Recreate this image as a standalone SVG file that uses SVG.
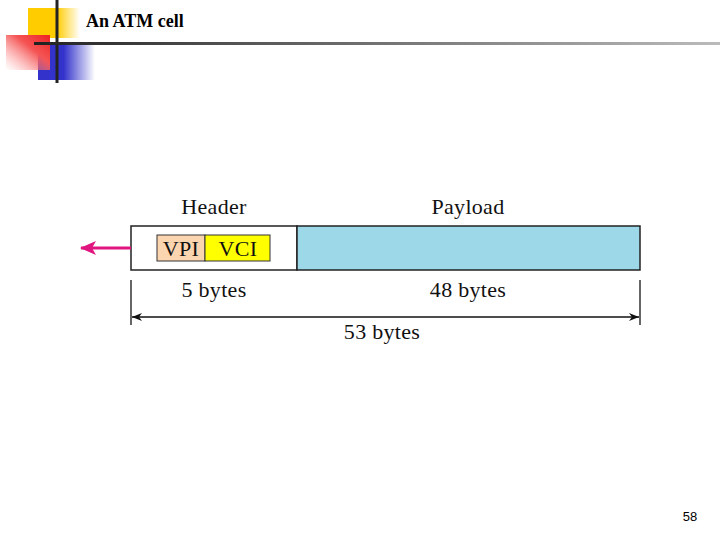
<svg xmlns="http://www.w3.org/2000/svg" width="720" height="540" viewBox="0 0 720 540">
<style>
.lbl{font-family:"Liberation Serif","Times New Roman",serif;font-size:22px;fill:#111;text-anchor:middle;letter-spacing:0.3px}
.tk{stroke:#333;stroke-width:1.5}
</style>
<defs>
<linearGradient id="gy" x1="0" x2="1" y1="0" y2="0"><stop offset="0" stop-color="#ffcc00"/><stop offset="0.55" stop-color="#ffcc00"/><stop offset="1" stop-color="#ffcc00" stop-opacity="0"/></linearGradient>
<linearGradient id="gr" x1="1" x2="0" y1="0" y2="1"><stop offset="0" stop-color="#ee2222"/><stop offset="0.4" stop-color="#f55555"/><stop offset="1" stop-color="#ff9999" stop-opacity="0"/></linearGradient>
<linearGradient id="gb" x1="0" x2="1" y1="0" y2="0"><stop offset="0" stop-color="#3333cc"/><stop offset="0.45" stop-color="#3333cc"/><stop offset="1" stop-color="#3333cc" stop-opacity="0"/></linearGradient>
<linearGradient id="gl" x1="0" x2="1" y1="0" y2="0"><stop offset="0" stop-color="#222"/><stop offset="0.3" stop-color="#555"/><stop offset="1" stop-color="#bbb"/></linearGradient>
<marker id="ab" viewBox="0 0 10 10" refX="10" refY="5" markerWidth="10" markerHeight="10" markerUnits="userSpaceOnUse" orient="auto-start-reverse"><path d="M0,1 L10,5 L0,9 L3,5 Z" fill="#111"/></marker>
<marker id="ap" viewBox="0 0 16 14" refX="15" refY="7" markerWidth="16" markerHeight="14" markerUnits="userSpaceOnUse" orient="auto"><path d="M0,0 L16,7 L0,14 L4,7 Z" fill="#e0157f"/></marker>
</defs>
<g id="decor">
<rect x="28" y="8" width="52" height="30" fill="url(#gy)"/>
<rect x="38" y="45" width="57" height="35" fill="url(#gb)"/>
<rect x="6" y="35" width="44" height="35" fill="url(#gr)"/>
<line x1="57" y1="0" x2="57" y2="83" stroke="#222" stroke-width="3"/>
<rect x="34" y="42" width="686" height="3" fill="url(#gl)"/>
</g>
<text id="title" x="86" y="27" font-family="Liberation Serif,serif" font-size="18" font-weight="bold" fill="#000">An ATM cell</text>
<g id="header">
<rect x="131" y="226" width="166" height="44" fill="#fff" stroke="#222" stroke-width="1.5"/>
<text class="lbl" x="214" y="214">Header</text>
</g>
<g id="payload">
<rect x="297" y="226" width="343" height="44" fill="#9dd8e8" stroke="#222" stroke-width="1.5"/>
<text class="lbl" x="468" y="214">Payload</text>
</g>
<g id="vpi">
<rect x="157" y="235" width="48" height="26" fill="#fbd5b0" stroke="#333" stroke-width="1"/>
<text class="lbl" x="181" y="256">VPI</text>
</g>
<g id="vci">
<rect x="205" y="235" width="65" height="26" fill="#ffff00" stroke="#333" stroke-width="1"/>
<text class="lbl" x="238" y="256">VCI</text>
</g>
<g id="connectors">
<line x1="131" y1="248" x2="81" y2="248" stroke="#e0157f" stroke-width="3" marker-end="url(#ap)"/>
<line class="tk" x1="131" y1="280" x2="131" y2="325"/>
<line class="tk" x1="640" y1="280" x2="640" y2="325"/>
<line x1="132" y1="317" x2="639" y2="317" stroke="#111" stroke-width="1.5" marker-start="url(#ab)" marker-end="url(#ab)"/>
</g>
<text class="lbl" x="214" y="297">5 bytes</text>
<text class="lbl" x="468" y="297">48 bytes</text>
<text class="lbl" x="382" y="339">53 bytes</text>
<text x="690" y="521" font-family="Liberation Sans,Arial,sans-serif" font-size="13" fill="#000" text-anchor="middle">58</text>
</svg>
